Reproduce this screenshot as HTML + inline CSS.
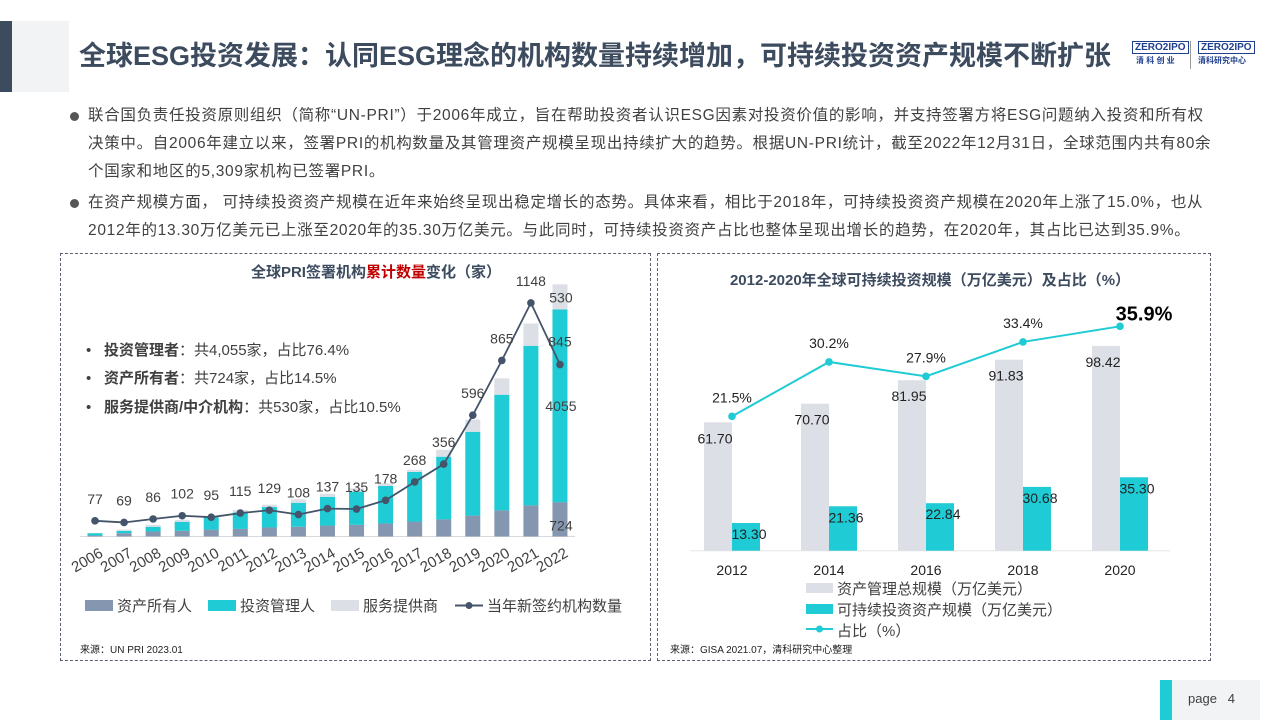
<!DOCTYPE html>
<html><head><meta charset="utf-8">
<style>
body{margin:0;width:1280px;height:720px;background:#fff;position:relative;overflow:hidden;font-family:"Liberation Sans","Noto Sans CJK SC",sans-serif;color:#404040}
.abs{position:absolute}
.p{position:absolute;left:88px;font-size:15.5px;line-height:28px;white-space:nowrap;letter-spacing:0.7px;color:#404040}
.dot{position:absolute;left:70px;width:9px;height:9px;border-radius:50%;background:#555}
.panel{position:absolute;border:1.5px dashed #5a6270}
svg text{font-family:"Liberation Sans","Noto Sans CJK SC",sans-serif}
</style></head><body>
<div class="abs" style="left:0;top:21px;width:12px;height:71px;background:#3d4b5f"></div>
<div class="abs" style="left:12px;top:21px;width:57px;height:71px;background:#f2f3f5"></div>
<div class="abs" style="left:79px;top:34px;font-size:27px;font-weight:bold;color:#3d4b5f;white-space:nowrap">全球ESG投资发展：认同ESG理念的机构数量持续增加，可持续投资资产规模不断扩张</div>
<div class="abs" style="left:1132px;top:41px;width:118px;height:30px;font-size:8px;color:#1f3f8f">
 <div style="position:absolute;left:0;top:0;font-weight:bold;font-size:10px;border:1px solid #1f3f8f;padding:0 2px">ZERO2IPO</div>
 <div style="position:absolute;left:4px;top:14px;font-weight:bold">清 科 创 业</div>
 <div style="position:absolute;left:58px;top:0;width:1px;height:28px;background:#999"></div>
 <div style="position:absolute;left:66px;top:0;font-weight:bold;font-size:10px;border:1px solid #1f3f8f;padding:0 2px">ZERO2IPO</div>
 <div style="position:absolute;left:66px;top:14px;font-weight:bold">清科研究中心</div>
</div>

<div class="dot" style="top:112px"></div>
<div class="p" style="top:102px">联合国负责任投资原则组织（简称“UN-PRI”）于2006年成立，旨在帮助投资者认识ESG因素对投资价值的影响，并支持签署方将ESG问题纳入投资和所有权<br>决策中。自2006年建立以来，签署PRI的机构数量及其管理资产规模呈现出持续扩大的趋势。根据UN-PRI统计，截至2022年12月31日，全球范围内共有80余<br>个国家和地区的5,309家机构已签署PRI。</div>
<div class="dot" style="top:199px"></div>
<div class="p" style="top:189px">在资产规模方面， 可持续投资资产规模在近年来始终呈现出稳定增长的态势。具体来看，相比于2018年，可持续投资资产规模在2020年上涨了15.0%，也从<br>2012年的13.30万亿美元已上涨至2020年的35.30万亿美元。与此同时，可持续投资资产占比也整体呈现出增长的趋势，在2020年，其占比已达到35.9%。</div>

<div class="panel" style="left:60px;top:253px;width:589px;height:406px"></div>
<div class="panel" style="left:657px;top:253px;width:552px;height:406px"></div>

<svg class="abs" style="left:0;top:0" width="1280" height="720" id="charts">
 <text x="376" y="277" text-anchor="middle" font-size="15" font-weight="bold" fill="#3d4b5f">全球PRI签署机构<tspan fill="#c00000">累计数量</tspan>变化（家）</text>
 <text x="930" y="285" text-anchor="middle" font-size="15" font-weight="bold" fill="#3d4b5f">2012-2020年全球可持续投资规模（万亿美元）及占比（%）</text>
 <g font-size="15" fill="#404040">
  <text x="86" y="355">•</text><text x="104" y="355"><tspan font-weight="bold">投资管理者</tspan>：共4,055家，占比76.4%</text>
  <text x="86" y="383">•</text><text x="104" y="383"><tspan font-weight="bold">资产所有者</tspan>：共724家，占比14.5%</text>
  <text x="86" y="412">•</text><text x="104" y="412"><tspan font-weight="bold">服务提供商/中介机构</tspan>：共530家，占比10.5%</text>
 </g>
 <line x1="80" y1="536.5" x2="575" y2="536.5" stroke="#d9d9d9"/>
 <g id="left"></g>
 <g id="right"></g>
 <g font-size="15" fill="#404040">
  <rect x="85" y="600" width="28" height="11" fill="#8496b0"/><text x="117" y="611">资产所有人</text>
  <rect x="208" y="600" width="28" height="11" fill="#1fcbd4"/><text x="240" y="611">投资管理人</text>
  <rect x="331" y="600" width="28" height="11" fill="#dcdfe6"/><text x="363" y="611">服务提供商</text>
  <line x1="455" y1="605.5" x2="483" y2="605.5" stroke="#44546a" stroke-width="2"/><circle cx="469" cy="605.5" r="3.5" fill="#44546a"/><text x="487" y="611">当年新签约机构数量</text>
 </g>
 <g font-size="15" fill="#404040">
  <rect x="806" y="583" width="27" height="10" fill="#dcdfe6"/><text x="837" y="594">资产管理总规模（万亿美元）</text>
  <rect x="806" y="604" width="27" height="10" fill="#1fcbd4"/><text x="837" y="615">可持续投资资产规模（万亿美元）</text>
  <line x1="806" y1="629" x2="833" y2="629" stroke="#1fcbd4" stroke-width="2"/><circle cx="819.5" cy="629" r="3.5" fill="#1fcbd4"/><text x="837" y="636">占比（%）</text>
 </g>
 <text x="80" y="653" font-size="10" fill="#222">来源：UN PRI 2023.01</text>
 <text x="670" y="653" font-size="10" fill="#222">来源：GISA 2021.07，清科研究中心整理</text>
</svg>

<div class="abs" style="left:1160px;top:680px;width:12px;height:40px;background:#1fcbd4"></div>
<div class="abs" style="left:1172px;top:680px;width:88px;height:40px;background:#f2f3f5"></div>
<div class="abs" style="left:1188px;top:691px;font-size:13px;color:#404040">page&nbsp;&nbsp;&nbsp;4</div>

<script>
const years=[2006,2007,2008,2009,2010,2011,2012,2013,2014,2015,2016,2017,2018,2019,2020,2021,2022];
const owners=[20,70,105,120,145,160,190,205,230,245,275,315,360,440,550,655,724];
const managers=[50,50,100,190,255,345,430,505,605,700,790,1045,1320,1765,2435,3360,4055];
const providers=[7,25,40,40,20,55,50,75,65,70,55,45,145,255,345,470,530];
const newSigners=[77,69,86,102,95,115,129,108,137,135,178,268,356,596,865,1148,845];
const rYears=[2012,2014,2016,2018,2020];
const totalAUM=[61.70,70.70,81.95,91.83,98.42];
const sustAUM=[13.30,21.36,22.84,30.68,35.30];
const share=[21.5,30.2,27.9,33.4,35.9];

const NS='http://www.w3.org/2000/svg';
function mk(t,a,p){const e=document.createElementNS(NS,t);for(const k in a)e.setAttribute(k,a[k]);p.appendChild(e);return e;}
const L=document.getElementById('left'),R=document.getElementById('right');
const base=536.5;
const lx=i=>95+i*29.06;
const ly=v=>base-v*0.0475;
const lly=v=>base-v*0.2035;
years.forEach((y,i)=>{
  const w=15,x=lx(i)-w/2;
  let h=owners[i]*0.0475;
  const r1=mk('rect',{x:x,y:base-h,width:w,height:h,fill:'#8496b0'},L);
  
  
  const h2=managers[i]*0.0475;
  const r2=mk('rect',{x:x,y:base-h-h2,width:w,height:h2,fill:'#1fcbd4'},L);
  
  
  const h3=providers[i]*0.0475;
  const r3=mk('rect',{x:x,y:base-h-h2-h3,width:w,height:h3,fill:'#dcdfe6'},L);
  
  
  const t=mk('text',{x:0,y:0,'font-size':15,fill:'#404040','text-anchor':'end',transform:`translate(${lx(i)+9},${556}) rotate(-30)`},L);
  t.textContent=y;
  
  
});
const pts=newSigners.map((v,i)=>lx(i)+','+lly(v)).join(' ');
const pl=mk('polyline',{points:pts,fill:'none',stroke:'#44546a','stroke-width':1.8},L);


newSigners.forEach((v,i)=>{
  const c=mk('circle',{cx:lx(i),cy:lly(v),r:3.8,fill:'#44546a'},L);
  
  
  const last=i===years.length-1;
  const t=mk('text',{x:lx(i),y:last?lly(v)-18:lly(v)-17,'font-size':14,fill:'#404040','text-anchor':'middle'},L);
  t.textContent=v;
  
  
});
const i22=years.length-1;
[[owners[i22],base-owners[i22]*0.0475/2+11],[managers[i22],ly(owners[i22]+managers[i22]/2)+5],[providers[i22],ly(owners[i22]+managers[i22]+providers[i22])+18]].forEach((a,k)=>{
  const t=mk('text',{x:lx(i22)+1,y:a[1],'font-size':14,fill:'#404040','text-anchor':'middle'},L);
  t.textContent=a[0];
  
  
});

const rb=550.7;
const rx=i=>732+i*97;
const ry=v=>rb-v*2.08;
const py=v=>rb-v*6.25;
mk('line',{x1:690,y1:rb,x2:1170,y2:rb,stroke:'#e6e6e6'},R);
rYears.forEach((y,i)=>{
  const g=mk('rect',{x:rx(i)-28,y:ry(totalAUM[i]),width:28,height:rb-ry(totalAUM[i]),fill:'#dcdfe6'},R);
  
  
  const c=mk('rect',{x:rx(i),y:ry(sustAUM[i]),width:28,height:rb-ry(sustAUM[i]),fill:'#1fcbd4'},R);
  
  
  const t1=mk('text',{x:rx(i)-17,y:ry(totalAUM[i])+21,'font-size':14,fill:'#222','text-anchor':'middle'},R);
  t1.textContent=totalAUM[i].toFixed(2);
  
  
  const t2=mk('text',{x:rx(i)+17,y:ry(sustAUM[i])+16,'font-size':14,fill:'#222','text-anchor':'middle'},R);
  t2.textContent=sustAUM[i].toFixed(2);
  
  
  const tx=mk('text',{x:rx(i),y:575,'font-size':14,fill:'#222','text-anchor':'middle'},R);
  tx.textContent=y;
  
  
});
const pl2=mk('polyline',{points:share.map((v,i)=>rx(i)+','+py(v)).join(' '),fill:'none',stroke:'#1fcbd4','stroke-width':2},R);


share.forEach((v,i)=>{
  const c=mk('circle',{cx:rx(i),cy:py(v),r:3.8,fill:'#1fcbd4'},R);
  
  
  const last=i===share.length-1;
  const t=mk('text',{x:rx(i)+(last?24:0),y:py(v)-(last?6:14),'font-size':last?20:14,'font-weight':last?'bold':'normal',fill:last?'#000':'#222','text-anchor':'middle'},R);
  t.textContent=v.toFixed(1)+'%';
  
  
});
</script>
</body></html>
